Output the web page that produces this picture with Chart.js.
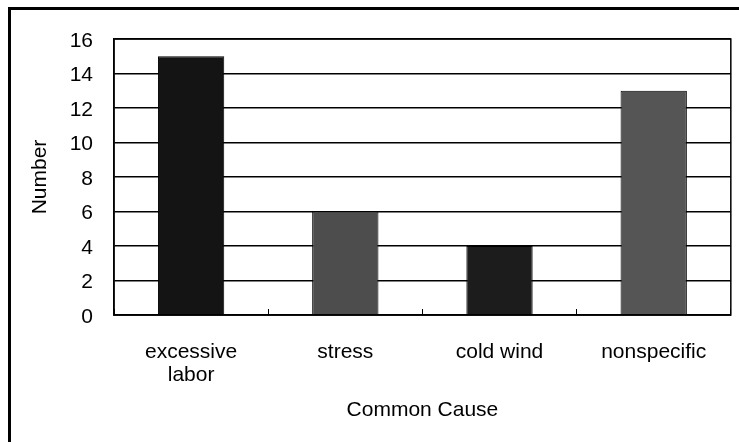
<!DOCTYPE html>
<html>
<head>
<meta charset="utf-8">
<script src="https://cdn.jsdelivr.net/npm/chart.js@4"></script>
<style>
  body { margin: 0; background: #fff; }
  #wrap { position: relative; width: 739px; height: 442px; }
  #frame { position: absolute; left: 8px; top: 7px; right: -5px; bottom: -5px; border-top: 3px solid #000; border-left: 3px solid #000; }
</style>
</head>
<body>
<div id="wrap">
  <div id="frame"></div>
  <canvas id="myBarChart"></canvas>
</div>
<script>
const categories = [['excessive', 'labor'], 'stress', 'cold wind', 'nonspecific'];
const counts = [15, 6, 4, 13];
const barColors = ['#141414', '#4d4d4d', '#1c1c1c', '#555555'];
const yTicks = [0, 2, 4, 6, 8, 10, 12, 14, 16];

const fontFamily = 'Liberation Sans, Arial, sans-serif';

// box around the plot area
const plotBorder = {
    id: 'plotBorder',
    afterDraw(chart) {
        const { ctx, chartArea } = chart;
        ctx.save();
        ctx.strokeStyle = '#000';
        ctx.lineWidth = 1.5;
        ctx.strokeRect(chartArea.left, chartArea.top, chartArea.right - chartArea.left, chartArea.bottom - chartArea.top);
        ctx.restore();
    }
};

const ctx = document.getElementById('myBarChart').getContext('2d');
const myBarChart = new Chart(ctx, {
    type: 'bar',
    data: {
        labels: categories,
        datasets: [
            {
                label: 'Number',
                data: counts,
                backgroundColor: barColors,
                borderColor: '#000',
                borderWidth: 1,
                barPercentage: 0.43,
                categoryPercentage: 1.0,
            }
        ]
    },
    options: {
        responsive: true,
        maintainAspectRatio: false,
        animation: false,
        layout: { padding: { left: 0, top: 39, right: 6, bottom: 0 } },
        plugins: {
            legend: { display: false },
            tooltip: { enabled: false }
        },
        scales: {
            x: {
                afterFit(scale) { scale.height = 127; },
                grid: { drawOnChartArea: false, color: '#000', tickLength: -6 },
                border: { color: '#000', width: 1.5 },
                ticks: {
                    color: '#000',
                    padding: 32,
                    maxRotation: 0,
                    font: { family: fontFamily, size: 21, lineHeight: 1.1 }
                },
                title: {
                    display: true,
                    text: 'Common Cause',
                    color: '#000',
                    padding: { bottom: 19 },
                    font: { family: fontFamily, size: 21 }
                }
            },
            y: {
                min: 0,
                max: 16,
                afterFit(scale) { scale.width = 114; },
                afterBuildTicks(scale) { scale.ticks = yTicks.map(v => ({ value: v })); },
                grid: { color: '#000', lineWidth: 1.5, drawTicks: false },
                border: { color: '#000', width: 1.5 },
                ticks: {
                    color: '#000',
                    padding: 21,
                    labelOffset: 2,
                    font: { family: fontFamily, size: 21 }
                },
                title: {
                    display: true,
                    text: 'Number',
                    color: '#000',
                    padding: { top: 28 },
                    font: { family: fontFamily, size: 21 }
                }
            }
        }
    },
    plugins: [plotBorder]
});
</script>
</body>
</html>
